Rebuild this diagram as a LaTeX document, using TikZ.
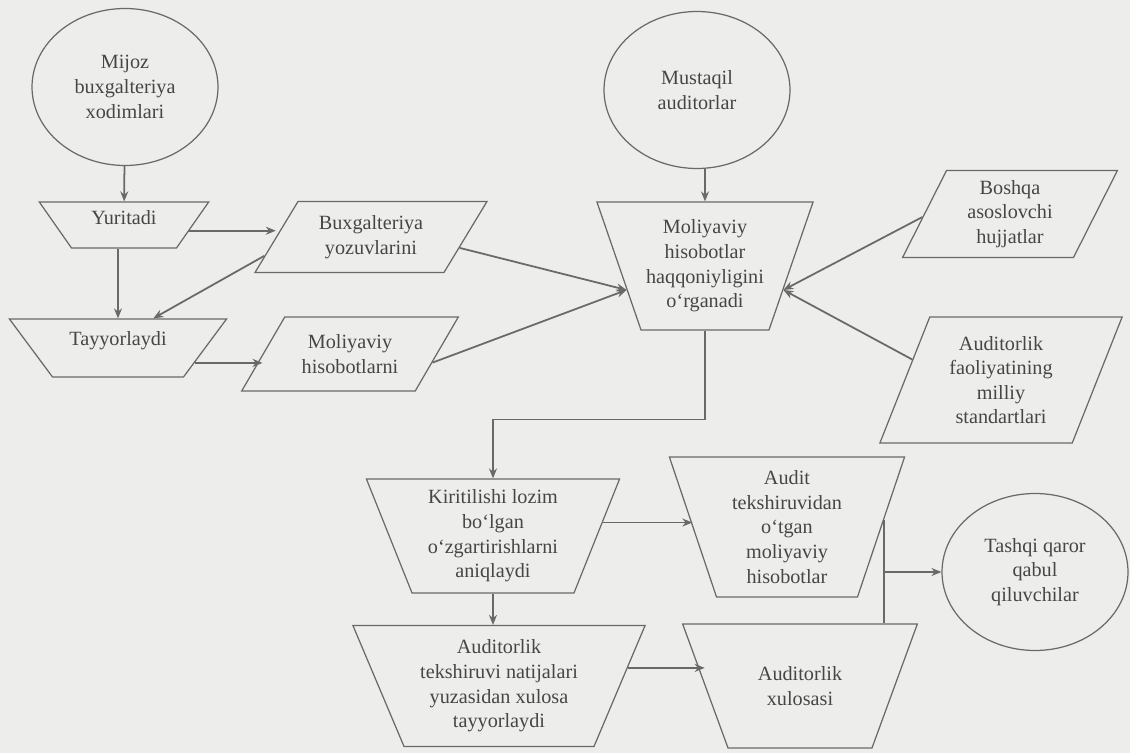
\documentclass[tikz,border=0pt]{standalone}
\usepackage{fontspec}
\setmainfont{Liberation Serif}
\usepackage{tikz}
\usetikzlibrary{shapes.geometric, arrows.meta, calc}
\definecolor{cLine}{RGB}{105,105,105}
\definecolor{cText}{RGB}{70,70,70}
\definecolor{cBg}{RGB}{237,237,235}
\newcommand{\txtbox}[3]{\parbox[c][#2][c]{#1}{\centering #3}}
\tikzset{
	actor/.style ={ellipse, draw=cLine, line width=0.7pt, minimum width=3.72cm, minimum height=3.14cm, align=center, text=cText},
	% body of the trapezium is the text box, so angle and box give the exact outline
	stage/.style ={trapezium, shape border rotate=180, trapezium left angle=#1, trapezium right angle=#1, draw=cLine, line width=0.7pt, text=cText, inner sep=0pt},
	doc/.style   ={trapezium, trapezium left angle=#1, trapezium right angle={180-#1}, draw=cLine, line width=0.7pt, text=cText, inner sep=0pt},
	sig/.style   ={-{Stealth[length=2mm, width=1.6mm]}, draw=cLine, line width=1pt},
	link/.style  ={draw=cLine, line width=0.8pt},
}

\begin{document}
\begin{tikzpicture}[x=0.02cm, y=-0.02cm, font=\fontsize{11.5}{14}\selectfont]
	\path[use as bounding box, fill=cBg] (0,0) rectangle (1130,753);
	% ishtirokchilar
	\node[actor] (mijoz) at (125,87) {Mijoz\\buxgalteriya\\xodimlari};
	\node[actor] (mus) at (697,90) {Mustaqil\\auditorlar};
	\node[actor] (tas) at (1035,572) {Tashqi qaror\\qabul\\qiluvchilar};
	% harakatlar
	\node[stage=55] (yur) at (124,225) {\txtbox{2.1cm}{0.92cm}{Yuritadi\par\vspace{0.3cm}}};
	\node[stage=53.4] (tay) at (118,348) {\txtbox{2.62cm}{1.16cm}{Tayyorlaydi\par\vspace{0.3cm}}};
	\node[stage=71] (org) at (705,266) {\txtbox{2.56cm}{2.56cm}{Moliyaviy\\hisobotlar\\haqqoniyligini\\o‘rganadi}};
	\node[stage=68.2] (kir) at (493,536) {\txtbox{3.24cm}{2.28cm}{Kiritilishi lozim\\bo‘lgan\\o‘zgartirishlarni\\aniqlaydi}};
	\node[stage=71.4] (aud) at (787,527) {\txtbox{2.82cm}{2.8cm}{Audit\\tekshiruvidan\\o‘tgan\\moliyaviy\\hisobotlar}};
	\node[stage=67.1] (nat) at (499,686) {\txtbox{3.8cm}{2.42cm}{Auditorlik\\tekshiruvi natijalari\\yuzasidan xulosa\\tayyorlaydi}};
	\node[stage=69.9] (xul) at (800,686) {\txtbox{2.88cm}{2.48cm}{Auditorlik\\xulosasi}};
	% hujjatlar
	\node[doc=58.8] (bux) at (371,237) {\txtbox{2.92cm}{1.42cm}{Buxgalteriya\\yozuvlarini}};
	\node[doc=59.8] (mol) at (350,354) {\txtbox{2.61cm}{1.48cm}{Moliyaviy\\hisobotlarni}};
	\node[doc=63.2] (bos) at (1010,214) {\txtbox{2.54cm}{1.74cm}{Boshqa\\asoslovchi\\hujjatlar}};
	\node[doc=68.4] (std) at (1001,380) {\txtbox{2.85cm}{2.52cm}{Auditorlik\\faoliyatining\\milliy\\standartlari}};
	% bog'lanishlar
	\draw[sig] (mijoz) -- (yur);
	\draw[sig] (tay.90 |- yur.270) -- (tay.90);
	\draw[sig] (yur.-5) -- (yur.-5 -| bux.180);
	\draw[sig] (bux.190) -- (tay.40);
	\draw[sig] (tay.-11) -- (tay.-11 -| mol.180);
	\draw[sig] (bux.-7) -- (org.197);
	\draw[sig] (mol.-6) -- (org.197);
	\draw[sig] (mus.270 -| org.90) -- (org.90);
	\draw[sig] (bos.182) -- (org.-17);
	\draw[sig] (std.167) -- (org.-17);
	\draw[sig] (org.270) -- ++(0,89) -| (kir.90);
	\draw[sig] (kir.7) -- (kir.7 -| aud.180);
	\draw[sig] (kir.270) -- (kir.270 |- nat.90);
	\draw[sig] (nat.8) -- (nat.8 -| xul.180);
	\draw[link] (aud.4) -- (aud.4 |- xul.90);
	\draw[sig] (aud.4 |- tas.180) -- (tas.180);
\end{tikzpicture}
\end{document}
